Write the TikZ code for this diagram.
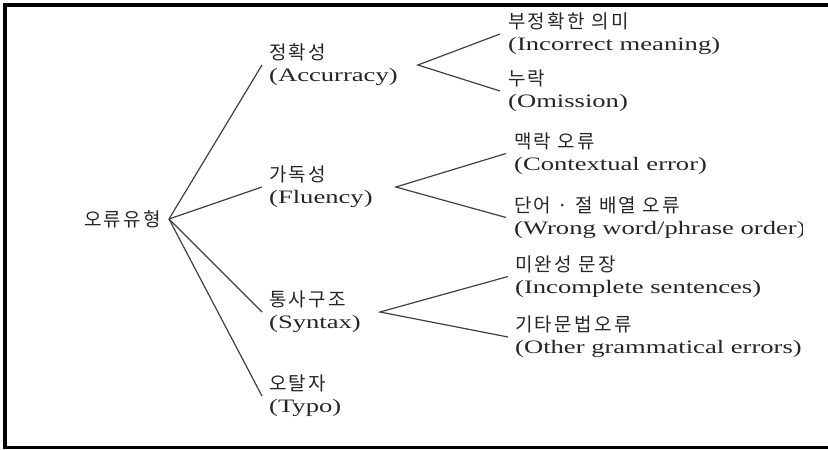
\documentclass[tikz,border=0pt]{standalone}
\usepackage{fontspec}
\setmainfont{Liberation Serif}[FakeStretch=1.4]
\newfontfamily\kr{Noto Sans CJK KR}[LetterSpace=12]
\begin{document}
\begin{tikzpicture}[x=1pt,y=-1pt]
\tikzset{
  lbl/.style={anchor=west, inner sep=0pt, align=left, text=black!85,
              font=\fontsize{19}{22}\selectfont},
  conn/.style={draw=black!75, line width=1.2pt},
  frame/.style={draw=black, line width=3.5pt},
}
\useasboundingbox (0,0) rectangle (828,450);
\draw[frame] (828,5) -- (5,5) -- (5,447.5) -- (828,447.5);

% root
\node[lbl, anchor=east] (root) at (161,219) {\kr 오류유형};

% level 1
\node[lbl] (acc)  at (269,65)  {{\kr 정확성}\\(Accurracy)};
\node[lbl] (flu)  at (269,187) {{\kr 가독성}\\(Fluency)};
\node[lbl] (syn)  at (269,312) {{\kr 통사구조}\\(Syntax)};
\node[lbl] (typo) at (269,396) {{\kr 오탈자}\\(Typo)};

% level 2
\node[lbl] (l1) at (508,34)    {{\kr 부정확한 의미}\\(Incorrect meaning)};
\node[lbl] (l2) at (508,91)    {{\kr 누락}\\(Omission)};
\node[lbl] (l3) at (514,153.5) {{\kr 맥락 오류}\\(Contextual error)};
\begin{scope}
  \clip (0,0) rectangle (802,450);
  \node[lbl] (l4) at (514,217.5) {{\kr 단어 · 절 배열 오류}\\(Wrong word/phrase order)};
\end{scope}
\node[lbl] (l5) at (515,276.5) {{\kr 미완성 문장}\\(Incomplete sentences)};
\node[lbl] (l6) at (515,337)   {{\kr 기타문법오류}\\(Other grammatical errors)};

% root connectors
\coordinate (rootout) at ([xshift=8pt]root.east);
\draw[conn] (rootout) -- ([xshift=-7pt]acc.west);
\draw[conn] (rootout) -- ([xshift=-7pt]flu.west);
\draw[conn] (rootout) -- ([xshift=-7pt]syn.west);
\draw[conn] (rootout) -- ([xshift=-7pt]typo.west);

% forks
\coordinate (accfork) at ([xshift=20pt]acc.east);
\coordinate (flufork) at ([xshift=23pt]flu.east);
\coordinate (synfork) at ([xshift=19pt]syn.east);
\draw[conn] ([xshift=-8pt]l1.west) -- (accfork) -- ([xshift=-8pt]l2.west);
\draw[conn] ([xshift=-8pt]l3.west) -- (flufork) -- ([xshift=-8pt]l4.west);
\draw[conn] ([xshift=-7pt]l5.west) -- (synfork) -- ([xshift=-7pt]l6.west);
\end{tikzpicture}
\end{document}
